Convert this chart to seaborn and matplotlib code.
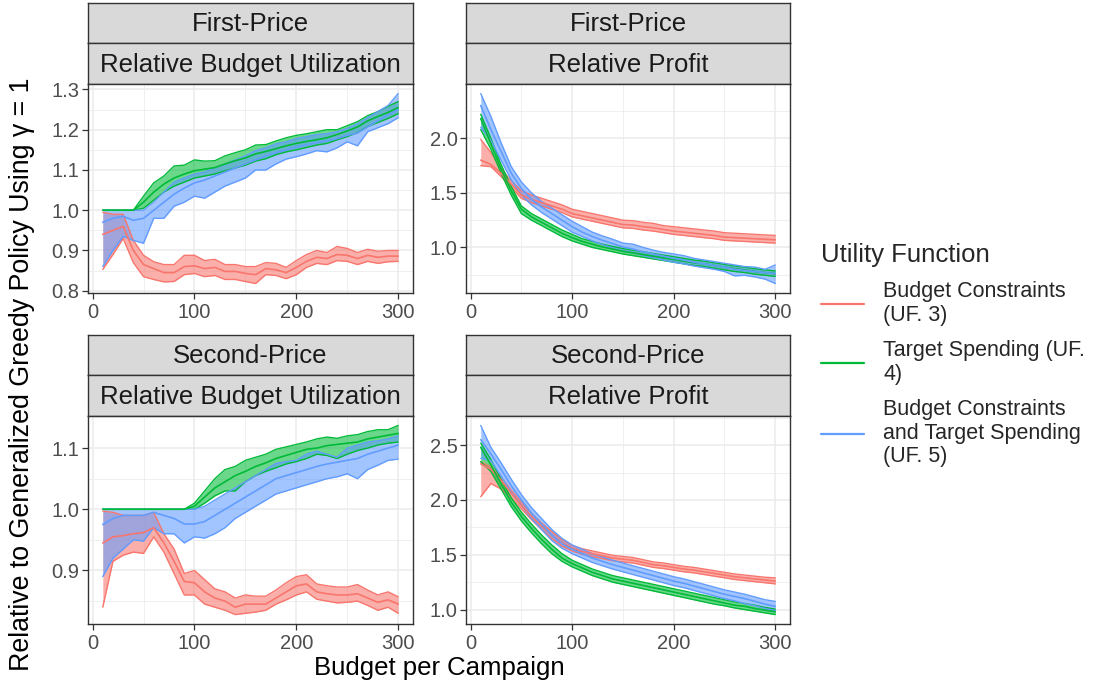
import numpy as np
import pandas as pd
import matplotlib
matplotlib.use("Agg")
import matplotlib.pyplot as plt
import seaborn as sns
from matplotlib.lines import Line2D
from matplotlib.ticker import MultipleLocator, FixedLocator

# ---------------- data ----------------
budget = list(range(10, 301, 10))

series_names = ["UF3", "UF4", "UF5"]
legend_labels = ["Budget Constraints\n(UF. 3)",
                 "Target Spending (UF.\n4)",
                 "Budget Constraints\nand Target Spending\n(UF. 5)"]
palette = ["#F8766D", "#00BA38", "#619CFF"]

auctions = ["First-Price", "Second-Price"]
metrics = ["Relative Budget Utilization", "Relative Profit"]

# First-price, budget utilization
fpb_uf3_mean = [.94, .95, .96, .90, .865, .855, .845, .845, .86, .862, .855, .858, .848, .848, .843,
                .84, .855, .852, .845, .858, .873, .883, .88, .89, .888, .88, .888, .883, .886, .886]
fpb_uf3_lo = [.853, .89, .93, .87, .835, .828, .822, .823, .84, .843, .835, .838, .828, .828, .823,
              .818, .84, .838, .83, .84, .858, .868, .865, .875, .873, .865, .873, .868, .872, .873]
fpb_uf3_hi = [.995, .99, .99, .925, .888, .872, .865, .865, .888, .888, .875, .878, .865, .865, .86,
              .86, .87, .868, .858, .875, .89, .9, .895, .91, .905, .895, .903, .898, .9, .9]
fpb_uf4_mean = [1, 1, 1, 1, 1.02, 1.045, 1.065, 1.08, 1.09, 1.098, 1.102, 1.106, 1.115, 1.123, 1.13,
                1.14, 1.146, 1.153, 1.16, 1.166, 1.171, 1.175, 1.18, 1.188, 1.197, 1.207, 1.222, 1.233, 1.243, 1.255]
fpb_uf4_lo = [1, 1, 1, 1, 1.005, 1.025, 1.045, 1.06, 1.07, 1.08, 1.085, 1.09, 1.098, 1.105, 1.112,
              1.122, 1.128, 1.138, 1.145, 1.15, 1.156, 1.162, 1.166, 1.175, 1.183, 1.193, 1.208, 1.218, 1.228, 1.24]
fpb_uf4_hi = [1, 1, 1, 1, 1.035, 1.068, 1.085, 1.11, 1.112, 1.125, 1.122, 1.123, 1.135, 1.143, 1.15,
              1.162, 1.163, 1.172, 1.18, 1.186, 1.19, 1.195, 1.2, 1.2, 1.21, 1.22, 1.235, 1.245, 1.258, 1.27]
fpb_uf5_mean = [.97, .98, .985, .975, .98, 1.0, 1.02, 1.04, 1.055, 1.068, 1.075, 1.085, 1.095, 1.105, 1.115,
                1.125, 1.135, 1.143, 1.15, 1.157, 1.163, 1.168, 1.172, 1.178, 1.186, 1.192, 1.207, 1.222, 1.237, 1.25]
fpb_uf5_lo = [.86, .90, .935, .925, .918, .98, .98, 1.01, 1.02, 1.035, 1.03, 1.045, 1.06, 1.07, 1.08,
              1.1, 1.1, 1.115, 1.127, 1.133, 1.14, 1.148, 1.145, 1.155, 1.17, 1.16, 1.195, 1.205, 1.215, 1.23]
fpb_uf5_hi = [1.0, 1.0, 1.0, 1.0, 1.0, 1.02, 1.045, 1.07, 1.08, 1.09, 1.095, 1.105, 1.115, 1.125, 1.135,
              1.148, 1.155, 1.165, 1.17, 1.178, 1.183, 1.188, 1.19, 1.195, 1.203, 1.215, 1.23, 1.245, 1.26, 1.29]

# First-price, profit
fpp_uf3_mean = [1.80, 1.76, 1.68, 1.58, 1.48, 1.44, 1.41, 1.38, 1.35, 1.31, 1.29, 1.27, 1.25, 1.23, 1.21,
                1.205, 1.19, 1.18, 1.165, 1.15, 1.14, 1.13, 1.12, 1.11, 1.095, 1.09, 1.085, 1.08, 1.075, 1.07]
fpp_uf3_lo = [1.75, 1.74, 1.65, 1.55, 1.45, 1.41, 1.38, 1.35, 1.32, 1.28, 1.26, 1.24, 1.22, 1.20, 1.18,
              1.175, 1.16, 1.15, 1.135, 1.12, 1.11, 1.10, 1.09, 1.08, 1.065, 1.06, 1.055, 1.05, 1.045, 1.04]
fpp_uf3_hi = [1.99, 1.87, 1.72, 1.61, 1.52, 1.48, 1.45, 1.42, 1.39, 1.35, 1.33, 1.31, 1.29, 1.27, 1.25,
              1.245, 1.23, 1.22, 1.20, 1.19, 1.18, 1.17, 1.16, 1.15, 1.135, 1.13, 1.125, 1.12, 1.115, 1.11]
fpp_uf4_mean = [2.18, 1.95, 1.72, 1.52, 1.35, 1.28, 1.23, 1.18, 1.13, 1.09, 1.055, 1.03, 1.005, .985, .965,
                .95, .935, .92, .905, .89, .875, .86, .85, .835, .82, .805, .795, .78, .77, .76]
fpp_uf4_lo = [2.08, 1.90, 1.68, 1.48, 1.31, 1.25, 1.20, 1.15, 1.10, 1.06, 1.03, 1.00, .98, .96, .94,
              .925, .91, .895, .88, .865, .85, .835, .825, .81, .795, .78, .77, .755, .745, .735]
fpp_uf4_hi = [2.22, 2.00, 1.76, 1.56, 1.38, 1.31, 1.26, 1.21, 1.16, 1.12, 1.08, 1.055, 1.03, 1.01, .99,
              .975, .96, .945, .93, .915, .90, .885, .875, .86, .845, .83, .82, .805, .795, .785]
fpp_uf5_mean = [2.30, 2.08, 1.88, 1.68, 1.54, 1.44, 1.37, 1.31, 1.25, 1.19, 1.14, 1.10, 1.065, 1.035, 1.005,
                .985, .96, .94, .92, .90, .885, .865, .85, .835, .82, .80, .79, .78, .77, .76]
fpp_uf5_lo = [2.10, 1.98, 1.80, 1.62, 1.48, 1.39, 1.32, 1.26, 1.20, 1.14, 1.10, 1.06, 1.025, .995, .965,
              .95, .925, .905, .885, .865, .85, .83, .815, .80, .78, .74, .745, .73, .71, .67]
fpp_uf5_hi = [2.41, 2.20, 1.96, 1.74, 1.60, 1.50, 1.42, 1.36, 1.30, 1.24, 1.19, 1.14, 1.105, 1.075, 1.04,
              1.03, 1.00, .975, .955, .94, .925, .90, .885, .87, .855, .84, .825, .82, .80, .84]

# Second-price, budget utilization
spb_uf3_mean = [.945, .955, .957, .96, .962, .97, .945, .915, .882, .88, .865, .855, .85, .84, .845,
                .845, .845, .855, .865, .875, .878, .865, .862, .86, .86, .862, .855, .848, .852, .845]
spb_uf3_lo = [.84, .915, .925, .93, .928, .955, .93, .895, .86, .86, .845, .84, .835, .828, .83,
              .832, .835, .845, .852, .86, .865, .853, .85, .847, .848, .85, .843, .835, .84, .83]
spb_uf3_hi = [.997, .995, .99, .99, .99, .995, .96, .935, .895, .9, .885, .87, .865, .855, .86,
              .858, .858, .868, .88, .89, .893, .878, .875, .873, .873, .877, .868, .86, .865, .857]
spb_uf4_mean = [1, 1, 1, 1, 1, 1, 1, 1, 1, 1.005, 1.02, 1.035, 1.045, 1.055, 1.062,
                1.07, 1.076, 1.083, 1.088, 1.093, 1.098, 1.1, 1.104, 1.106, 1.108, 1.11, 1.115, 1.118, 1.121, 1.124]
spb_uf4_lo = [1, 1, 1, 1, 1, 1, 1, 1, 1, 1.0, 1.01, 1.022, 1.03, 1.03, 1.045,
              1.055, 1.062, 1.068, 1.074, 1.078, 1.083, 1.09, 1.088, 1.083, 1.09, 1.096, 1.1, 1.105, 1.108, 1.11]
spb_uf4_hi = [1, 1, 1, 1, 1, 1, 1, 1, 1, 1.01, 1.03, 1.05, 1.065, 1.07, 1.08,
              1.085, 1.09, 1.098, 1.102, 1.106, 1.11, 1.115, 1.118, 1.116, 1.12, 1.122, 1.127, 1.13, 1.13, 1.137]
spb_uf5_mean = [.975, .985, .99, .99, .99, .995, .99, .985, .976, .976, .98, .99, 1.0, 1.01, 1.02,
                1.03, 1.04, 1.05, 1.055, 1.06, 1.065, 1.07, 1.074, 1.077, 1.08, 1.083, 1.09, 1.095, 1.1, 1.105]
spb_uf5_lo = [.89, .92, .935, .95, .948, .97, .96, .96, .945, .955, .953, .96, .97, .985, .995,
              1.005, 1.015, 1.025, 1.03, 1.035, 1.04, 1.045, 1.05, 1.053, 1.058, 1.05, 1.065, 1.072, 1.08, 1.082]
spb_uf5_hi = [1.0, 1.0, 1.0, 1.0, 1.0, 1.0, 1.0, 1.0, 1.0, 1.0, 1.005, 1.015, 1.025, 1.035, 1.045,
              1.055, 1.065, 1.075, 1.078, 1.08, 1.09, 1.095, 1.09, 1.085, 1.1, 1.105, 1.11, 1.112, 1.115, 1.12]

# Second-price, profit
spp_uf3_mean = [2.33, 2.28, 2.18, 2.06, 1.95, 1.85, 1.76, 1.68, 1.61, 1.56, 1.53, 1.51, 1.49, 1.47, 1.46,
                1.45, 1.43, 1.41, 1.40, 1.385, 1.37, 1.36, 1.345, 1.33, 1.315, 1.30, 1.29, 1.28, 1.27, 1.26]
spp_uf3_lo = [2.03, 2.15, 2.10, 2.02, 1.92, 1.82, 1.73, 1.65, 1.58, 1.535, 1.505, 1.485, 1.465, 1.445, 1.435,
              1.425, 1.405, 1.385, 1.375, 1.36, 1.345, 1.335, 1.32, 1.305, 1.29, 1.275, 1.265, 1.255, 1.245, 1.235]
spp_uf3_hi = [2.35, 2.30, 2.21, 2.09, 1.98, 1.88, 1.79, 1.71, 1.64, 1.585, 1.555, 1.535, 1.515, 1.495, 1.485,
              1.475, 1.455, 1.435, 1.425, 1.41, 1.395, 1.385, 1.37, 1.355, 1.34, 1.325, 1.315, 1.305, 1.295, 1.29]
spp_uf4_mean = [2.48, 2.32, 2.15, 1.98, 1.85, 1.74, 1.64, 1.55, 1.47, 1.42, 1.38, 1.34, 1.31, 1.28, 1.26,
                1.24, 1.22, 1.20, 1.18, 1.16, 1.14, 1.12, 1.10, 1.08, 1.06, 1.04, 1.03, 1.01, .995, .98]
spp_uf4_lo = [2.35, 2.26, 2.10, 1.94, 1.81, 1.70, 1.60, 1.51, 1.44, 1.39, 1.35, 1.31, 1.28, 1.25, 1.23,
              1.21, 1.19, 1.17, 1.15, 1.13, 1.11, 1.09, 1.07, 1.05, 1.035, 1.015, 1.0, .985, .97, .955]
spp_uf4_hi = [2.52, 2.37, 2.19, 2.02, 1.89, 1.78, 1.68, 1.59, 1.51, 1.45, 1.41, 1.37, 1.34, 1.31, 1.29,
              1.27, 1.25, 1.23, 1.21, 1.19, 1.17, 1.15, 1.13, 1.11, 1.09, 1.07, 1.055, 1.04, 1.02, 1.005]
spp_uf5_mean = [2.55, 2.42, 2.28, 2.13, 2.0, 1.88, 1.78, 1.68, 1.60, 1.55, 1.51, 1.47, 1.44, 1.41, 1.385,
                1.36, 1.335, 1.31, 1.285, 1.26, 1.24, 1.215, 1.19, 1.165, 1.14, 1.12, 1.10, 1.075, 1.05, 1.03]
spp_uf5_lo = [2.38, 2.36, 2.22, 2.07, 1.95, 1.83, 1.73, 1.63, 1.56, 1.51, 1.47, 1.43, 1.40, 1.37, 1.345,
              1.32, 1.295, 1.27, 1.245, 1.22, 1.20, 1.175, 1.15, 1.125, 1.10, 1.08, 1.055, 1.035, 1.01, .99]
spp_uf5_hi = [2.68, 2.48, 2.34, 2.19, 2.05, 1.93, 1.83, 1.73, 1.65, 1.59, 1.55, 1.51, 1.48, 1.45, 1.425,
              1.40, 1.375, 1.35, 1.325, 1.30, 1.28, 1.255, 1.23, 1.205, 1.18, 1.16, 1.14, 1.115, 1.09, 1.075]

x_ticks = [0, 100, 200, 300]
fpb_yticks = [0.8, 0.9, 1.0, 1.1, 1.2, 1.3]
fpp_yticks = [1.0, 1.5, 2.0]
spb_yticks = [0.9, 1.0, 1.1]
spp_yticks = [1.0, 1.5, 2.0, 2.5]

# ---------------- tidy table ----------------
panel_data = {
    ("First-Price", "Relative Budget Utilization"): [
        (fpb_uf3_mean, fpb_uf3_lo, fpb_uf3_hi), (fpb_uf4_mean, fpb_uf4_lo, fpb_uf4_hi), (fpb_uf5_mean, fpb_uf5_lo, fpb_uf5_hi)],
    ("First-Price", "Relative Profit"): [
        (fpp_uf3_mean, fpp_uf3_lo, fpp_uf3_hi), (fpp_uf4_mean, fpp_uf4_lo, fpp_uf4_hi), (fpp_uf5_mean, fpp_uf5_lo, fpp_uf5_hi)],
    ("Second-Price", "Relative Budget Utilization"): [
        (spb_uf3_mean, spb_uf3_lo, spb_uf3_hi), (spb_uf4_mean, spb_uf4_lo, spb_uf4_hi), (spb_uf5_mean, spb_uf5_lo, spb_uf5_hi)],
    ("Second-Price", "Relative Profit"): [
        (spp_uf3_mean, spp_uf3_lo, spp_uf3_hi), (spp_uf4_mean, spp_uf4_lo, spp_uf4_hi), (spp_uf5_mean, spp_uf5_lo, spp_uf5_hi)],
}
panel_yticks = {
    ("First-Price", "Relative Budget Utilization"): fpb_yticks,
    ("First-Price", "Relative Profit"): fpp_yticks,
    ("Second-Price", "Relative Budget Utilization"): spb_yticks,
    ("Second-Price", "Relative Profit"): spp_yticks,
}

rows = []
for (auc, met), triples in panel_data.items():
    for sname, (m, lo, hi) in zip(series_names, triples):
        for b, mv, lv, hv in zip(budget, m, lo, hi):
            rows.append(dict(auction=auc, metric=met, series=sname, budget=b, mean=mv, lo=lv, hi=hv))
df = pd.DataFrame(rows)

# ---------------- style ----------------
sns.set_style("white")
plt.rcParams["font.family"] = ["Liberation Sans", "DejaVu Sans"]

W, H = 1105, 690
fig = plt.figure(figsize=(W / 100, H / 100), dpi=100)


def box(x0, y0, x1, y1):
    return [x0 / W, 1 - y1 / H, (x1 - x0) / W, (y1 - y0) / H]


cols = [(88, 413), (466, 790)]
rows_px = [(3, 43, 84, 293), (335, 375, 416, 624)]

strip_fill = "#D9D9D9"
border = "#333333"
grid_c = "#EBEBEB"
tick_txt = "#4D4D4D"
pal = dict(zip(series_names, palette))

for ri, auc in enumerate(auctions):
    s0, s1, p0, p1 = rows_px[ri]
    for ci, met in enumerate(metrics):
        x0, x1 = cols[ci]
        # strips
        for (ya, yb, label) in [(s0, s1, auc), (s1, p0, met)]:
            sax = fig.add_axes(box(x0, ya, x1, yb))
            sax.set_facecolor(strip_fill)
            sax.set_xticks([]); sax.set_yticks([])
            for sp in sax.spines.values():
                sp.set_color(border); sp.set_linewidth(1.0)
            sax.text(0.5, 0.47, label, ha="center", va="center", fontsize=18.5,
                     color="#1A1A1A", transform=sax.transAxes)
        ax = fig.add_axes(box(x0, p0, x1, p1))
        sub = df[(df.auction == auc) & (df.metric == met)]
        for s in series_names:
            d = sub[sub.series == s]
            ax.fill_between(d.budget, d.lo, d.hi, color=pal[s], alpha=0.58, lw=0, zorder=2)
            ax.plot(d.budget, d.lo, color=pal[s], lw=1.0, zorder=3)
            ax.plot(d.budget, d.hi, color=pal[s], lw=1.0, zorder=3)
        sns.lineplot(data=sub, x="budget", y="mean", hue="series", palette=pal,
                     estimator=None, lw=1.2, ax=ax, legend=False, zorder=4)
        # limits with ggplot-like 5% expansion
        ymin, ymax = sub.lo.min(), sub.hi.max()
        yr = ymax - ymin
        ax.set_ylim(ymin - 0.05 * yr, ymax + 0.05 * yr)
        ax.set_xlim(10 - 0.05 * 290, 300 + 0.05 * 290)
        yt = panel_yticks[(auc, met)]
        ax.yaxis.set_major_locator(FixedLocator(yt))
        ax.yaxis.set_minor_locator(MultipleLocator((yt[1] - yt[0]) / 2))
        ax.xaxis.set_major_locator(FixedLocator(x_ticks))
        ax.xaxis.set_minor_locator(MultipleLocator(50))
        ax.set_yticklabels([f"{v:.1f}" for v in yt])
        ax.set_xticklabels([str(v) for v in x_ticks])
        ax.grid(True, which="major", color=grid_c, lw=1.1, zorder=0)
        ax.grid(True, which="minor", color=grid_c, lw=0.55, zorder=0)
        ax.set_axisbelow(True)
        ax.tick_params(which="major", direction="out", length=4, width=0.9, color=border,
                       labelsize=14.5, labelcolor=tick_txt, pad=2)
        ax.tick_params(axis="x", which="major", pad=3)
        ax.tick_params(which="minor", length=0)
        ax.tick_params(left=True, bottom=True)
        for sp in ax.spines.values():
            sp.set_color(border); sp.set_linewidth(1.0); sp.set_visible(True)
        ax.set_xlabel(""); ax.set_ylabel("")

fig.text(439 / W, 1 - 668 / H, "Budget per Campaign", ha="center", va="center", fontsize=18.5, color="#000000")
fig.text(22 / W, 1 - 374 / H, "Relative to Generalized Greedy Policy Using γ = 1", ha="center", va="center",
         rotation=90, fontsize=19.3, color="#000000")

handles = [Line2D([0], [0], color=c, lw=1.6) for c in palette]
leg = fig.legend(handles, legend_labels, title="Utility Function", loc="upper left",
                 bbox_to_anchor=(812 / W, 1 - 234 / H), frameon=False, fontsize=15.5,
                 title_fontsize=18.5, handlelength=2.0, handletextpad=0.9, labelspacing=0.68,
                 alignment="left", borderaxespad=0)
for t in leg.get_texts():
    t.set_linespacing(1.15)

fig.savefig("out.png", dpi=100)
